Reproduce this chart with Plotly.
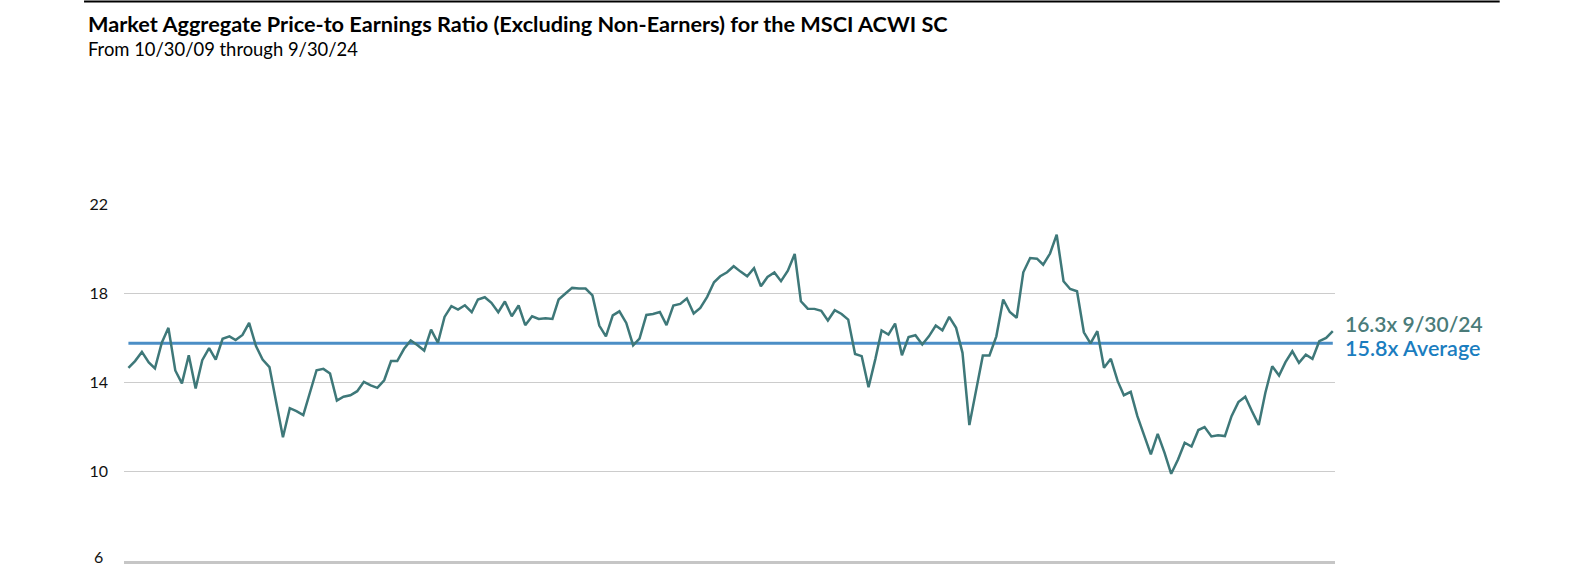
import plotly.graph_objects as go
import pandas as pd

# monthly P/E readings, 10/30/09 through 9/30/24
pe_ratio = [
    14.66, 14.96, 15.37, 14.90, 14.63, 15.78, 16.45, 14.54, 13.96, 15.22,
    13.73, 15.00, 15.54, 15.03, 15.96, 16.07, 15.90, 16.13, 16.67, 15.63,
    15.03, 14.69, 13.09, 11.55, 12.85, 12.72, 12.54, 13.54, 14.55, 14.61,
    14.40, 13.19, 13.36, 13.43, 13.61, 14.03, 13.87, 13.76, 14.10, 14.96,
    14.96, 15.51, 15.88, 15.67, 15.43, 16.37, 15.78, 16.94, 17.42, 17.27,
    17.46, 17.15, 17.72, 17.82, 17.57, 17.15, 17.63, 16.97, 17.45, 16.57,
    16.97, 16.85, 16.88, 16.85, 17.72, 17.99, 18.24, 18.21, 18.21, 17.90,
    16.55, 16.07, 17.01, 17.19, 16.67, 15.67, 15.97, 17.03, 17.07, 17.16,
    16.57, 17.45, 17.52, 17.76, 17.09, 17.34, 17.84, 18.49, 18.76, 18.94,
    19.21, 18.97, 18.76, 19.12, 18.31, 18.73, 18.93, 18.54, 19.01, 19.76,
    17.64, 17.31, 17.30, 17.21, 16.78, 17.24, 17.07, 16.82, 15.28, 15.18,
    13.79, 15.06, 16.33, 16.15, 16.64, 15.22, 16.04, 16.12, 15.70, 16.07,
    16.55, 16.34, 16.94, 16.45, 15.33, 12.09, 13.69, 15.21, 15.21, 16.07,
    17.72, 17.16, 16.90, 18.94, 19.58, 19.55, 19.28, 19.78, 20.63, 18.54,
    18.19, 18.09, 16.25, 15.75, 16.30, 14.66, 15.06, 14.06, 13.43, 13.58,
    12.49, 11.64, 10.78, 11.70, 10.85, 9.91, 10.55, 11.30, 11.13, 11.87,
    12.00, 11.58, 11.63, 11.60, 12.49, 13.12, 13.36, 12.72, 12.10, 13.54,
    14.73, 14.31, 14.91, 15.40, 14.88, 15.25, 15.06, 15.85, 16.00, 16.30,
]
dates = pd.date_range("2009-10-31", periods=len(pe_ratio), freq="ME")

average_pe = 15.76
y_min, y_max = 6, 22
y_ticks = [10, 14, 18, 22]
latest_label = "16.3x 9/30/24"
average_label = "15.8x Average"

title = "Market Aggregate Price-to Earnings Ratio (Excluding Non-Earners) for the MSCI ACWI SC"
subtitle = "From 10/30/09 through 9/30/24"

teal = "#3e7879"
blue = "#4b8ec6"
tick_font = dict(family="Lato", size=16, color="#111")

fig = go.Figure()

# average line
fig.add_trace(
    go.Scatter(
        x=[dates[0], dates[-1]],
        y=[average_pe, average_pe],
        mode="lines",
        line=dict(color=blue, width=3),
        hoverinfo="skip",
    )
)

# P/E series
fig.add_trace(
    go.Scatter(
        x=dates,
        y=pe_ratio,
        mode="lines",
        line=dict(color=teal, width=2.5),
    )
)

# end labels
fig.add_annotation(
    x=1.0, xref="paper", xshift=8, xanchor="left",
    y=pe_ratio[-1] + 0.33, yref="y", yanchor="middle",
    text=latest_label, showarrow=False,
    font=dict(family="Lato", size=21, color="#4a7b79", weight=600),
)
fig.add_annotation(
    x=1.0, xref="paper", xshift=8, xanchor="left",
    y=average_pe - 0.2, yref="y", yanchor="middle",
    text=average_label, showarrow=False,
    font=dict(family="Lato", size=21.5, color="#1a7dbf", weight=600),
)

# bottom tick label sits on the page edge, so place it slightly raised
fig.add_annotation(
    x=0, xref="paper", xshift=-19, xanchor="right",
    y=y_min, yref="y", yshift=5, yanchor="middle",
    text=str(y_min), showarrow=False, font=tick_font,
)

# title block and top rule
fig.add_shape(
    type="line", xref="paper", yref="paper",
    x0=-0.033, x1=1.136, y0=1.567, y1=1.567,
    line=dict(color="black", width=2),
)
fig.add_annotation(
    x=-0.0314, xref="paper", xanchor="left",
    y=1.503, yref="paper", yanchor="middle",
    text="<b>" + title + "</b>", showarrow=False,
    font=dict(family="Lato", size=21.7, color="black"),
)
fig.add_annotation(
    x=-0.0314, xref="paper", xanchor="left",
    y=1.434, yref="paper", yanchor="middle",
    text=subtitle, showarrow=False,
    font=dict(family="Lato", size=18.4, color="black"),
)

fig.update_layout(
    width=1584,
    height=565,
    margin=dict(l=124, r=249, t=204, b=4),
    plot_bgcolor="white",
    paper_bgcolor="white",
    showlegend=False,
    font=dict(family="Lato", color="#222"),
)
fig.update_xaxes(
    range=["2009-10-11", "2024-10-10"],
    showgrid=False,
    showticklabels=False,
    showline=True,
    linecolor="#c6c6c6",
    linewidth=3,
    zeroline=False,
)
fig.update_yaxes(
    range=[y_min, y_max],
    tickvals=y_ticks,
    showgrid=True,
    gridcolor="#cccccc",
    gridwidth=1,
    zeroline=False,
    tickfont=tick_font,
    ticklabelstandoff=15,
)

# page has a default body margin that would push the chart off screen
fig.write_html(
    "out.html",
    config={"displayModeBar": False},
    post_script="document.body.style.margin='0px';",
)
